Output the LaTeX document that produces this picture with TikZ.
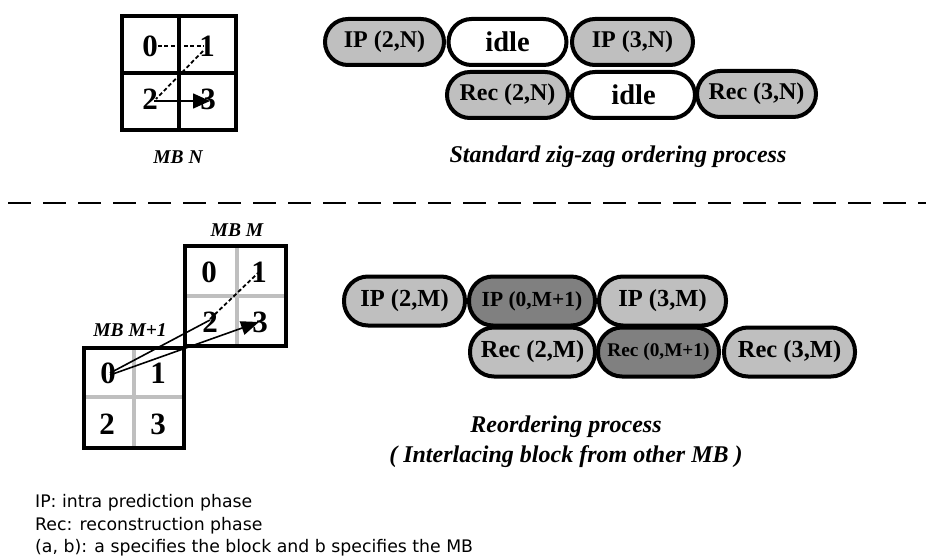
\documentclass[tikz,border=0pt]{standalone}
\usepackage{fontspec}
\setmainfont{Liberation Serif}
\newfontfamily\notefont{DejaVu Sans}
\usetikzlibrary{arrows.meta,calc}

\tikzset{
  pill/.style={draw=black, line width=4pt, rounded corners=23pt,
    minimum height=46pt, inner sep=0pt, font=\bfseries\fontsize{24}{26}\selectfont},
  light/.style={pill, fill=black!25},
  dark/.style={pill, fill=black!50},
  blank/.style={pill, fill=white, font=\bfseries\fontsize{28.5}{30}\selectfont},
  digit/.style={inner sep=0pt, font=\bfseries\fontsize{31}{31}\selectfont},
  mblabel/.style={font=\bfseries\itshape\fontsize{19.5}{21}\selectfont},
  caption/.style={font=\bfseries\itshape\fontsize{24}{30}\selectfont, align=center},
  frame/.style={line width=4pt},
  divider/.style={line width=4pt, black!25},
  dots/.style={line width=1.8pt, dash pattern=on 4pt off 2.5pt},
  link/.style={line width=1.6pt},
  lowpill/.style={minimum height=49pt, rounded corners=24pt},
}

\begin{document}
\begin{tikzpicture}[x=1pt, y=-1pt]
\useasboundingbox (0,0) rectangle (926,556);

% ---- MB N: zig-zag scan of the four blocks ----
\draw[frame] (122,16) rectangle (236,130);
\draw[frame] (179,16) -- (179,130);
\draw[frame] (122,73) -- (236,73);
\node[digit] (n0) at (150,46) {0};
\node[digit] (n1) at (207,46) {1};
\node[digit] (n2) at (150,99) {2};
\node[digit] (n3) at (208,99) {3};
\draw[dots] (n0.east) -- ($(n1.center)+(-3,0)$);
\draw[dots] ($(n1.center)+(-4,5)$) -- ($(n2.center)+(6,0)$);
\draw[link, -{Triangle[length=17pt,width=15pt]}] ($(n2.center)+(4,2)$) -- ($(n3.center)+(2,2)$);
\node[mblabel] (lblN) at (178,157) {MB N};

% ---- standard pipeline ----
\node[light, minimum width=119pt] (ip2n) at (384.5,42) {IP (2,N)};
\node[blank, minimum width=118pt] (idle1) at (507.5,42) {idle};
\node[light, minimum width=121pt] (ip3n) at (632.5,42) {IP (3,N)};
\node[light, minimum width=121pt] (rec2n) at (507.5,95) {Rec (2,N)};
\node[blank, minimum width=123pt] (idle2) at (633.5,95) {idle};
\node[light, minimum width=119pt] (rec3n) at (756.5,94) {Rec (3,N)};
\node[caption] (capA) at (618,157) {Standard zig-zag ordering process};

% ---- separator ----
\draw[line width=2.6pt, dash pattern=on 23pt off 12pt] (8,203) -- (926,203);

% ---- MB M and MB M+1 ----
\draw[divider] (237,246) -- (237,346);
\draw[divider] (185,296) -- (286,296);
\draw[frame] (185,246) rectangle (286,346);
\draw[divider] (134,348) -- (134,448);
\draw[divider] (84,397) -- (184,397);
\draw[frame] (84,348) rectangle (184,448);

\node[digit] (m0) at (209,272) {0};
\node[digit] (m1) at (259,272) {1};
\node[digit] (m2) at (210,322) {2};
\node[digit] (m3) at (260,322) {3};
\node[digit] (p0) at (108,373) {0};
\node[digit] (p1) at (158,373) {1};
\node[digit] (p2) at (107,424) {2};
\node[digit] (p3) at (158,424) {3};

\draw[link] ($(p0.center)+(2,0)$) -- ($(m2.center)+(0,-2)$);
\draw[dots] ($(m2.center)+(0,-3)$) -- ($(m1.center)+(-1,1)$);
\draw[link, -{Triangle[length=18pt,width=14pt]}] ($(p0.center)+(2,2)$) -- ($(m3.center)+(-1,0)$);

\node[mblabel] (lblM) at (237,230) {MB M};
\node[mblabel] (lblM1) at (130,330) {MB M+1};

% ---- reordered pipeline ----
\node[light, lowpill, minimum width=121pt, font=\bfseries\fontsize{24.5}{26}\selectfont] (ip2m) at (404.5,301) {IP (2,M)};
\node[dark, lowpill, minimum width=126pt,
      font=\bfseries\fontsize{21.5}{23}\selectfont] (ip0m) at (532,301) {IP (0,M+1)};
\node[light, lowpill, minimum width=127pt, font=\bfseries\fontsize{24.5}{26}\selectfont] (ip3m) at (662.5,301) {IP (3,M)};
\node[light, lowpill, minimum width=125pt, font=\bfseries\fontsize{24.5}{26}\selectfont] (rec2m) at (532.5,352) {Rec (2,M)};
\node[dark, lowpill, minimum width=121pt,
      font=\bfseries\fontsize{19.3}{21}\selectfont] (rec0m) at (658.5,352) {Rec (0,M+1)};
\node[light, lowpill, minimum width=131pt, font=\bfseries\fontsize{24.5}{26}\selectfont] (rec3m) at (789.5,352) {Rec (3,M)};
\node[caption] (capB) at (566,442) {Reordering process\\( Interlacing block from other MB )};

% ---- legend ----
\node[anchor=base west, align=left, inner sep=0pt,
      font=\notefont\fontsize{17.3}{22.5}\selectfont] (legend) at (35,552.5)
  {IP: intra prediction phase\\Rec: reconstruction phase\\(a, b): a specifies the block and b specifies the MB};
\end{tikzpicture}
\end{document}
